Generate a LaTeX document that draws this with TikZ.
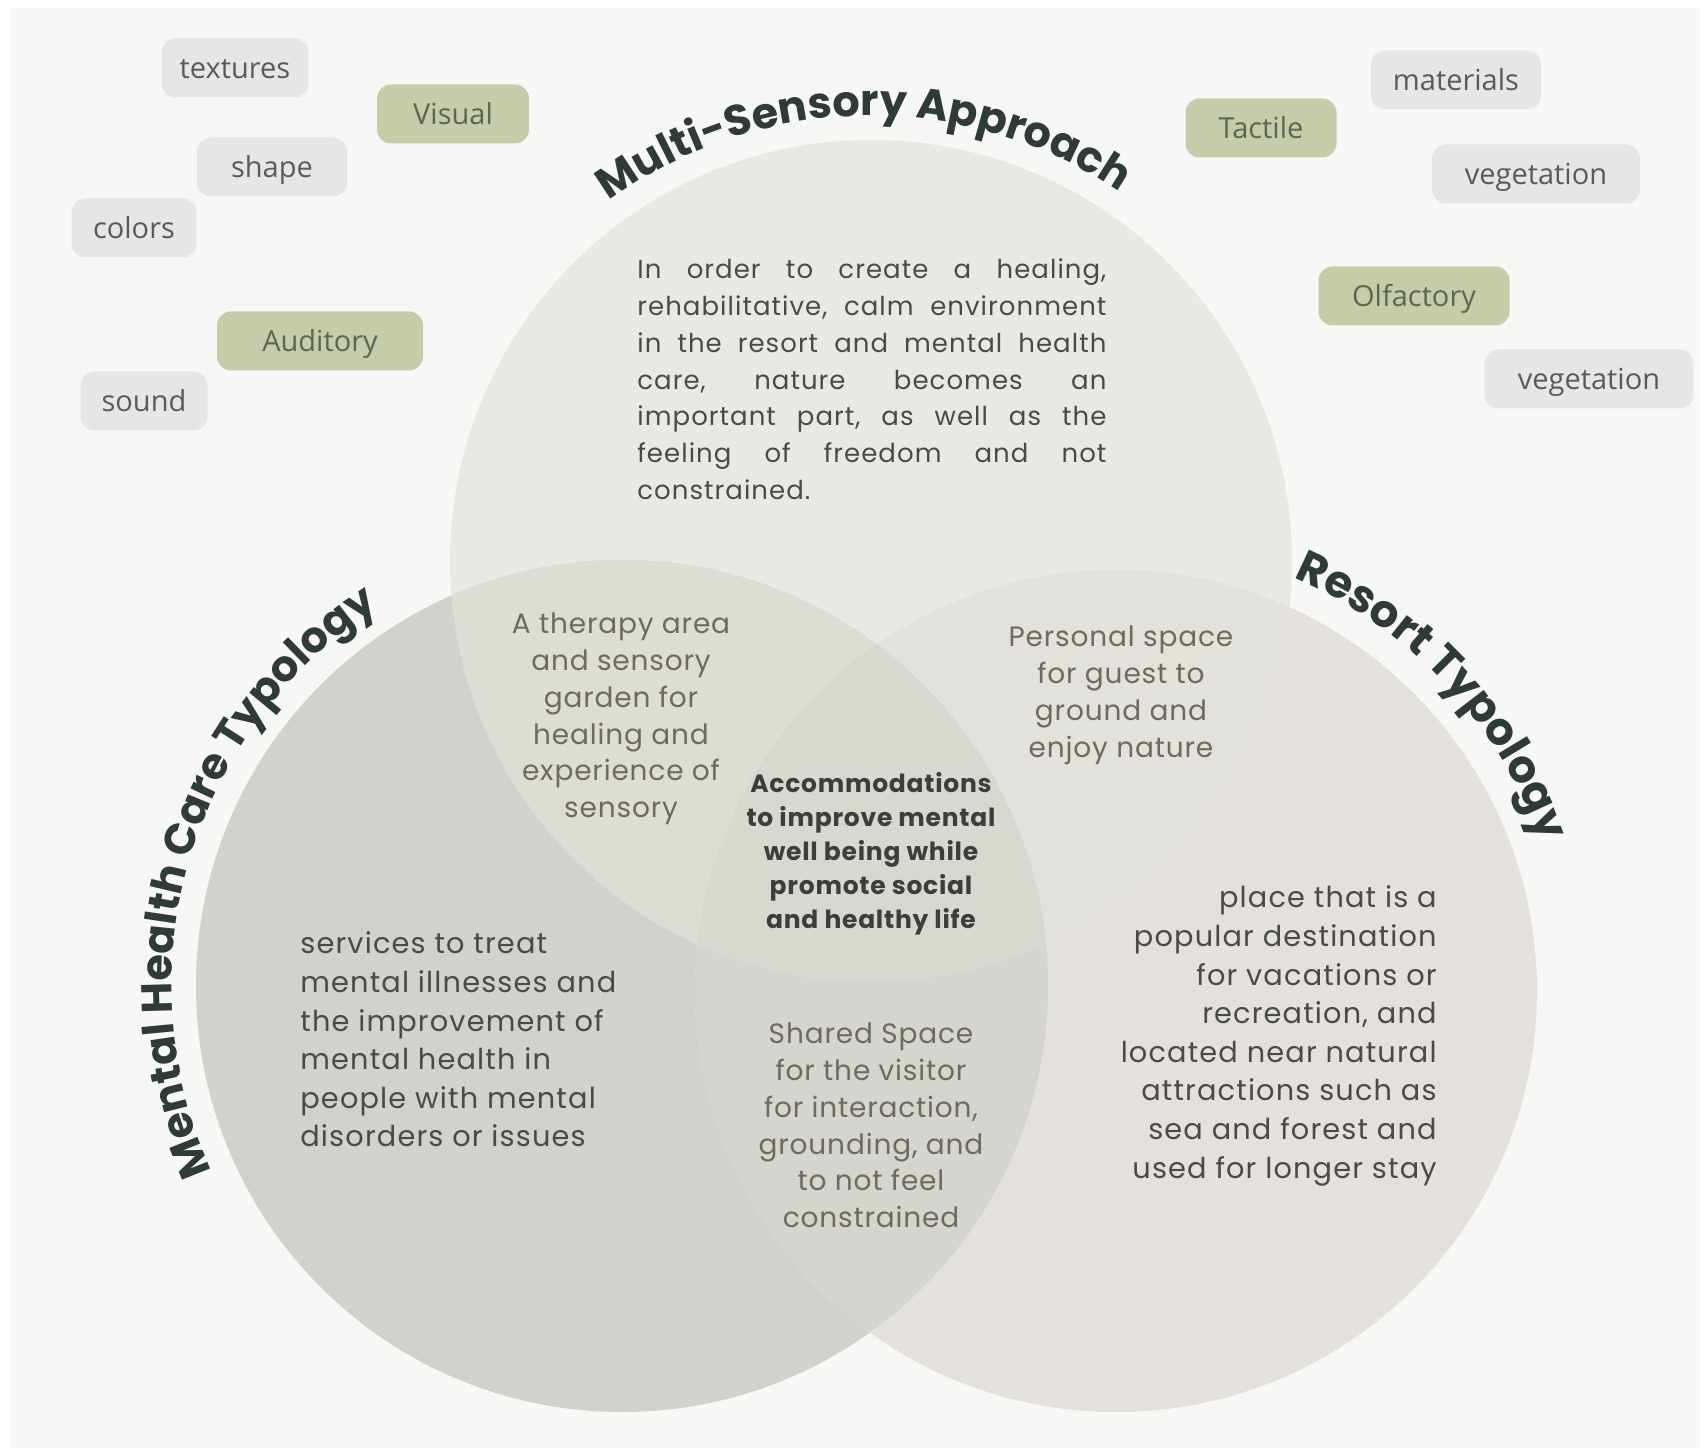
\documentclass[tikz,border=0pt]{standalone}
\usepackage{fontspec}
\setmainfont{Poppins}
\newfontfamily\tagfont{Open Sans}
\newfontfamily\titlefont{Poppins}
\newfontfamily\bodyfont[LetterSpace=4]{Poppins}
\newfontfamily\midfont[LetterSpace=3]{Poppins}
\usetikzlibrary{decorations.text}

\definecolor{bgc}{HTML}{F7F7F6}
\definecolor{topc}{HTML}{E9E9E4}
\definecolor{leftc}{HTML}{CFD3CB}
\definecolor{rightc}{HTML}{E4E1DD}
\definecolor{tlc}{HTML}{DCDDD5}
\definecolor{trc}{HTML}{E2E1DB}
\definecolor{lrc}{HTML}{D4D5CE}
\definecolor{ctrc}{HTML}{D7D8D0}
\definecolor{titlec}{HTML}{2E3B36}
\definecolor{bodyc}{HTML}{4A4A48}
\definecolor{midc}{HTML}{716A5C}
\definecolor{boldc}{HTML}{3F3D3A}
\definecolor{graytag}{HTML}{E6E6E5}
\definecolor{greentag}{HTML}{C5CCA8}
\definecolor{graytagtext}{HTML}{5A5A5A}
\definecolor{greentagtext}{HTML}{5E6552}

\newcommand{\jl}[1]{\leavevmode\hbox to 234.5pt{#1}}
\newcommand{\jsp}{\hskip 0.2em plus 1fil\relax}
\newcommand{\ttlfont}{\titlefont\bfseries\fontsize{21.5}{24}\selectfont\color{titlec}}
\newcommand{\ttlfontb}{\titlefont\bfseries\fontsize{22.5}{25}\selectfont\color{titlec}}

\tikzset{
  tagbase/.style={rounded corners=7pt, font=\tagfont\fontsize{14.5}{18}\selectfont,
    minimum height=29.5pt, inner xsep=0pt, inner ysep=0pt, text height=12.5pt, text depth=2pt},
  graytagbox/.style={tagbase, fill=graytag, text=graytagtext},
  greentagbox/.style={tagbase, fill=greentag, text=greentagtext},
  body/.style={font=\bodyfont\fontsize{13}{18.4}\selectfont, inner sep=0pt, text=bodyc},
  bodybig/.style={font=\bodyfont\fontsize{14.4}{19.3}\selectfont, inner sep=0pt, text=bodyc},
  midtext/.style={font=\midfont\fontsize{14}{18.4}\selectfont, inner sep=0pt, text=midc, align=center},
  boldtext/.style={font=\midfont\bfseries\fontsize{12.5}{17}\selectfont, inner sep=0pt, text=boldc, align=center},
  curvetitle/.style={decorate, decoration={text along path, text align=center, text={|\ttlfont|#1}}},
  curvetitleb/.style={decorate, decoration={text along path, text align=center, text={|\ttlfontb|#1}}}
}

\begin{document}
\begin{tikzpicture}[x=0.5pt,y=0.5pt]
\useasboundingbox (0,0) rectangle (1707,-1454);
\fill[white] (0,0) rectangle (1707,-1454);
\fill[bgc] (10,-8) rectangle (1700,-1448);

\coordinate (cT) at (871,-561);
\coordinate (cL) at (622,-986);
\coordinate (cR) at (1116,-991);

% circles
\fill[topc] (cT) circle[radius=421];
\fill[leftc] (cL) circle[radius=426];
\fill[rightc] (cR) circle[radius=421];
\begin{scope}
  \clip (cT) circle[radius=421];
  \fill[tlc] (cL) circle[radius=426];
  \fill[trc] (cR) circle[radius=421];
\end{scope}
\begin{scope}
  \clip (cL) circle[radius=426];
  \fill[lrc] (cR) circle[radius=421];
\end{scope}
\begin{scope}
  \clip (cT) circle[radius=421];
  \clip (cL) circle[radius=426];
  \fill[ctrc] (cR) circle[radius=421];
\end{scope}

% curved titles
\path[curvetitle={Multi-Sensory Approach}] (cT) ++(171:445) arc[start angle=171, end angle=11, radius=445];
\path[curvetitle={Mental Health Care Typology}] (cL) ++(243.5:450) arc[start angle=243.5, end angle=83.5, radius=450];
\path[curvetitleb={Resort Typology}] (cR) ++(123:450) arc[start angle=123, end angle=-37, radius=450];

% tags
\node[graytagbox, minimum width=73.5pt] (textures) at (235,-68) {textures};
\node[greentagbox, minimum width=76pt] (visual) at (453,-114) {Visual};
\node[graytagbox, minimum width=75pt] (shape) at (272,-167) {shape};
\node[graytagbox, minimum width=62.5pt] (colors) at (134,-228) {colors};
\node[greentagbox, minimum width=103pt] (auditory) at (320,-341) {Auditory};
\node[graytagbox, minimum width=63.5pt] (sound) at (144,-401) {sound};
\node[graytagbox, minimum width=85pt] (materials) at (1456,-80) {materials};
\node[greentagbox, minimum width=75.5pt] (tactile) at (1261,-128) {Tactile};
\node[graytagbox, minimum width=104pt] (veg1) at (1536,-174) {vegetation};
\node[greentagbox, minimum width=95.5pt] (olfactory) at (1414,-296) {Olfactory};
\node[graytagbox, minimum width=104.5pt] (veg2) at (1589,-379) {vegetation};

% texts
\node[body, anchor=north west, text width=234.5pt, align=left] (toptext) at (637,-258.5)
  {\jl{In\jsp order\jsp to\jsp create\jsp a\jsp healing,}\\
   \jl{rehabilitative,\jsp calm\jsp environment}\\
   \jl{in\jsp the\jsp resort\jsp and\jsp mental\jsp health}\\
   \jl{care,\jsp nature\jsp becomes\jsp an}\\
   \jl{important\jsp part,\jsp as\jsp well\jsp as\jsp the}\\
   \jl{feeling\jsp of\jsp freedom\jsp and\jsp not}\\
   constrained.};

\node[midtext, anchor=north] (tltext) at (621,-612.5)
  {A therapy area\\ and sensory\\ garden for\\ healing and\\ experience of\\ sensory};

\node[midtext, anchor=north] (trtext) at (1121,-625.5)
  {Personal space\\ for guest to\\ ground and\\ enjoy nature};

\node[boldtext, anchor=north] (ctext) at (871,-772.5)
  {Accommodations\\ to improve mental\\ well being while\\ promote social\\ and healthy life};

\node[midtext, anchor=north] (lrtext) at (871,-1022.5)
  {Shared Space\\ for the visitor\\ for interaction,\\ grounding, and\\ to not feel\\ constrained};

\node[bodybig, anchor=north west, align=left] (ltext) at (300,-931.5)
  {services to treat\\ mental illnesses and\\ the improvement of\\ mental health in\\ people with mental\\ disorders or issues};

\node[bodybig, anchor=north east, align=right] (rtext) at (1437,-885.5)
  {place that is a\\ popular destination\\ for vacations or\\ recreation, and\\ located near natural\\ attractions such as\\ sea and forest and\\ used for longer stay};
\end{tikzpicture}
\end{document}
